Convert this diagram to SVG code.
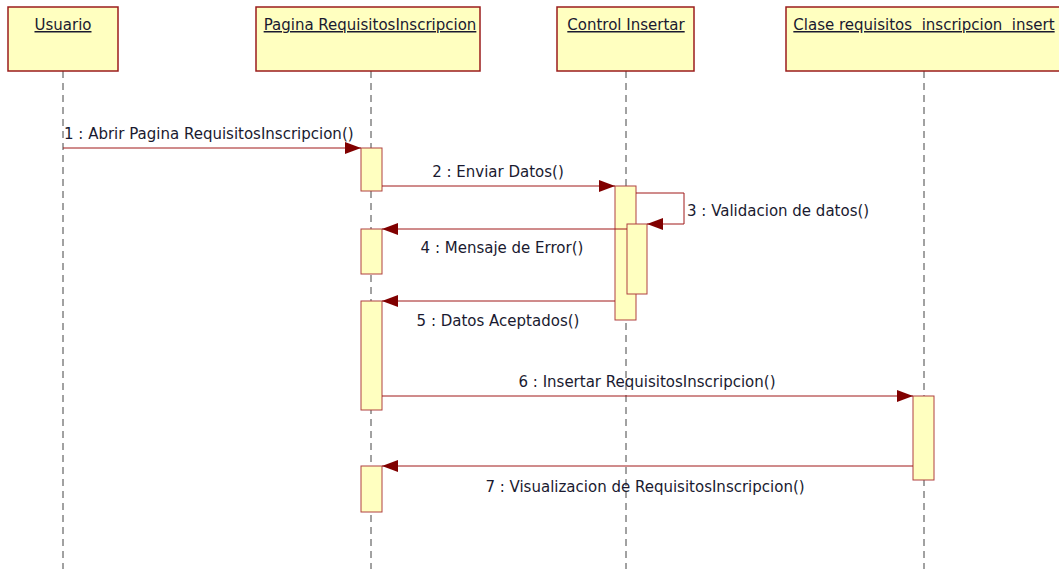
<svg xmlns="http://www.w3.org/2000/svg" width="1059" height="569" viewBox="0 0 1059 569">
<style>
.box{fill:#ffffc0;stroke:#9b1c1c;stroke-width:1.5}
.act{fill:#ffffc0;stroke:#b04040;stroke-width:1}
.life{stroke:#444;stroke-width:1;stroke-dasharray:7 5;fill:none}
.msg{stroke:#a01818;stroke-width:1;fill:none}
.hd{font-family:"DejaVu Sans",sans-serif;font-size:15px;fill:#1a1a30;text-anchor:middle;text-decoration:underline}
.lb{font-family:"DejaVu Sans",sans-serif;font-size:15px;fill:#1a1a30}
</style>
<defs>
<marker id="ah" markerWidth="16" markerHeight="12" refX="16" refY="6" orient="auto" markerUnits="userSpaceOnUse">
<path d="M0,0 L16,6 L0,12 Z" fill="#800000"/>
</marker>
</defs>
<rect width="1059" height="569" fill="#fff"/>
<g id="lifelines">
<line class="life" x1="63" y1="71" x2="63" y2="569"/>
<line class="life" x1="371" y1="71" x2="371" y2="569"/>
<line class="life" x1="626" y1="71" x2="626" y2="569"/>
<line class="life" x1="924" y1="71" x2="924" y2="569"/>
</g>
<g id="usuario"><rect class="box" x="8" y="7" width="110" height="64"/><text class="hd" x="63" y="30">Usuario</text></g>
<g id="pagina"><rect class="box" x="256" y="7" width="224" height="64"/><text class="hd" x="370" y="30">Pagina RequisitosInscripcion</text></g>
<g id="control"><rect class="box" x="557" y="7" width="137" height="64"/><text class="hd" x="626" y="30">Control Insertar</text></g>
<g id="clase"><rect class="box" x="786" y="7" width="280" height="64"/><text class="hd" x="924" y="30" xml:space="preserve">Clase requisitos  inscripcion  insert</text></g>
<g id="activations">
<rect class="act" x="361" y="148" width="21" height="43"/>
<rect class="act" x="361" y="229" width="21" height="45"/>
<rect class="act" x="361" y="301" width="21" height="109"/>
<rect class="act" x="361" y="466" width="21" height="46"/>
<rect class="act" x="615" y="186" width="21" height="134"/>
<rect class="act" x="627" y="224" width="20" height="70"/>
<rect class="act" x="913" y="396" width="21" height="84"/>
</g>
<g id="connectors">
<line class="msg" x1="63" y1="148" x2="361" y2="148" marker-end="url(#ah)"/>
<line class="msg" x1="382" y1="186" x2="615" y2="186" marker-end="url(#ah)"/>
<polyline class="msg" points="636,193 684,193 684,224 647,224" marker-end="url(#ah)"/>
<line class="msg" x1="627" y1="229" x2="382" y2="229" marker-end="url(#ah)"/>
<line class="msg" x1="615" y1="301" x2="382" y2="301" marker-end="url(#ah)"/>
<line class="msg" x1="382" y1="396" x2="913" y2="396" marker-end="url(#ah)"/>
<line class="msg" x1="913" y1="466" x2="382" y2="466" marker-end="url(#ah)"/>
</g>
<g id="labels">
<text class="lb" x="64" y="139">1 : Abrir Pagina RequisitosInscripcion()</text>
<text class="lb" x="498" y="177" text-anchor="middle">2 : Enviar Datos()</text>
<text class="lb" x="687" y="216">3 : Validacion de datos()</text>
<text class="lb" x="502" y="253" text-anchor="middle">4 : Mensaje de Error()</text>
<text class="lb" x="498" y="326" text-anchor="middle">5 : Datos Aceptados()</text>
<text class="lb" x="647" y="387" text-anchor="middle">6 : Insertar RequisitosInscripcion()</text>
<text class="lb" x="645" y="492" text-anchor="middle">7 : Visualizacion de RequisitosInscripcion()</text>
</g>
</svg>
